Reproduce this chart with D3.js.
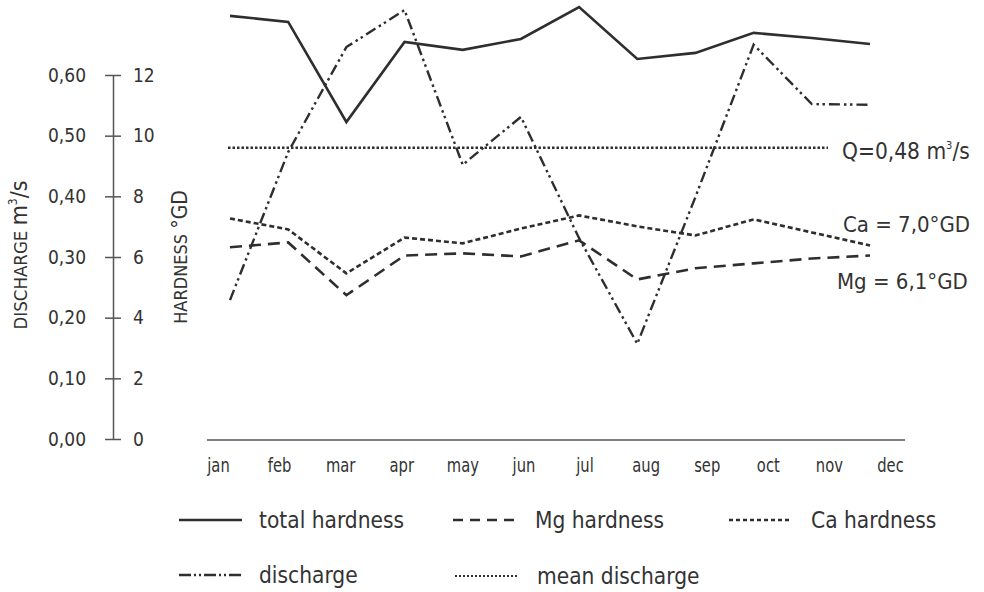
<!DOCTYPE html>
<html>
<head>
<meta charset="utf-8">
<script src="https://cdn.jsdelivr.net/npm/d3@7"></script>
<style>
  html, body { margin: 0; padding: 0; background: #ffffff; }
  svg { display: block; }
  text { font-family: "DejaVu Sans Condensed", "DejaVu Sans", sans-serif; font-stretch: condensed; fill: #333; }
</style>
</head>
<body>
<svg id="chart" width="984" height="592"></svg>
<script>
// Monthly series
const months = ["jan", "feb", "mar", "apr", "may", "jun", "jul", "aug", "sep", "oct", "nov", "dec"];
const totalHardness = [13.95, 13.75, 10.45, 13.09, 12.83, 13.19, 14.24, 12.53, 12.73, 13.39, 13.22, 13.02];
const mgHardness    = [6.32, 6.48, 4.74, 6.05, 6.12, 6.02, 6.55, 5.26, 5.63, 5.79, 5.95, 6.05];
const caHardness    = [7.27, 6.91, 5.46, 6.64, 6.45, 6.94, 7.37, 7.01, 6.71, 7.24, 6.81, 6.38];
const discharge     = [0.229, 0.473, 0.646, 0.707, 0.452, 0.531, 0.331, 0.157, 0.399, 0.650, 0.552, 0.551];
const meanDischarge = 0.48;
const meanCa = 7.0;
const meanMg = 6.1;

// Axis ticks
const hardnessTicks  = [0, 2, 4, 6, 8, 10, 12];
const dischargeTicks = [0, 0.1, 0.2, 0.3, 0.4, 0.5, 0.6];

const svg = d3.select("#chart");
const ink = "#2e2e2e";

const locale = d3.formatLocale({ decimal: ",", thousands: ".", grouping: [3], currency: ["", ""] });
const fmt2 = locale.format(".2f");
const fmt1 = locale.format(".1f");

// Scales
const yH = d3.scaleLinear().domain([0, 12]).range([439, 75]);
const yQ = d3.scaleLinear().domain([0, 0.6]).range([439, 75]);
const xData = d3.scalePoint().domain(months).range([230, 870]);
const xLab  = d3.scalePoint().domain(months).range([218, 890]);

// Left double axis
const axisX = 113;
const gL = svg.append("g").attr("transform", `translate(${axisX},0)`)
  .call(d3.axisLeft(yQ).tickValues(dischargeTicks).tickFormat(fmt2).tickSize(8).tickSizeOuter(0).tickPadding(19));
const gR = svg.append("g").attr("transform", `translate(${axisX},0)`)
  .call(d3.axisRight(yH).tickValues(hardnessTicks).tickSize(8).tickSizeOuter(0).tickPadding(12));
[gL, gR].forEach(g => {
  g.selectAll("path.domain").attr("stroke", "#555").attr("stroke-width", 1.5);
  g.selectAll(".tick line").attr("stroke", "#555").attr("stroke-width", 1.5);
  g.selectAll(".tick text").attr("font-size", 19).attr("fill", "#333")
    .attr("font-family", null);
});
gR.select("path.domain").remove();

// Axis titles
const t1 = svg.append("text").attr("transform", "translate(27,255) rotate(-90)").attr("text-anchor", "middle");
t1.append("tspan").attr("font-size", 18.5).text("DISCHARGE ");
t1.append("tspan").attr("font-size", 23).text("m");
t1.append("tspan").attr("font-size", 12).attr("dy", -10).text("3");
t1.append("tspan").attr("font-size", 23).attr("dy", 10).text("/s");

const t2 = svg.append("text").attr("transform", "translate(187,257) rotate(-90)").attr("text-anchor", "middle");
t2.append("tspan").attr("font-size", 18).text("HARDNESS ");
t2.append("tspan").attr("font-size", 21).text("°GD");

// Bottom axis
const xAxisG = svg.append("g").attr("transform", "translate(0,440)");
xAxisG.append("line")
  .attr("x1", xLab.range()[0] - 11).attr("x2", xLab.range()[1] + 15)
  .attr("stroke", "#555").attr("stroke-width", 1.5);
const xa = svg.append("g").attr("transform", "translate(0,440)")
  .call(d3.axisBottom(xLab).tickSize(0).tickPadding(18));
xa.select("path.domain").remove();
// narrow, tall month labels
xa.selectAll(".tick text")
  .attr("font-size", 20).attr("fill", "#333").attr("font-family", null)
  .attr("transform", "scale(0.82,1)");

// Line styles
const styles = {
  total:  { dash: null,               width: 2.6 },
  mg:     { dash: "12,7",             width: 2.6 },
  ca:     { dash: "5,3",              width: 2.6 },
  q:      { dash: "11,4,2.5,3.5,2.5,4", width: 2.4 },
  qmean:  { dash: "2.5,2",            width: 2.4 }
};

const lineGen = (yScale) => d3.line().x((d, i) => xData(months[i])).y(d => yScale(d));

function drawSeries(values, yScale, st) {
  svg.append("path").datum(values)
    .attr("d", lineGen(yScale))
    .attr("fill", "none").attr("stroke", ink)
    .attr("stroke-width", st.width)
    .attr("stroke-linejoin", "miter")
    .attr("stroke-dasharray", st.dash);
}

drawSeries(totalHardness, yH, styles.total);
drawSeries(mgHardness, yH, styles.mg);
drawSeries(caHardness, yH, styles.ca);
drawSeries(discharge, yQ, styles.q);

// Mean discharge reference line
svg.append("line")
  .attr("x1", xData(months[0]) - 2).attr("x2", 828)
  .attr("y1", yQ(meanDischarge)).attr("y2", yQ(meanDischarge))
  .attr("stroke", ink).attr("stroke-width", styles.qmean.width)
  .attr("stroke-dasharray", styles.qmean.dash);

// Annotations
const qLab = svg.append("text").attr("x", 842).attr("y", yQ(meanDischarge) + 11).attr("font-size", 22.5);
qLab.append("tspan").text("Q=" + fmt2(meanDischarge) + " m");
qLab.append("tspan").attr("font-size", 11).attr("dy", -10).text("3");
qLab.append("tspan").attr("dy", 10).text("/s");

svg.append("text").attr("x", 843).attr("y", 232).attr("font-size", 22).text("Ca = " + fmt1(meanCa) + "°GD");
svg.append("text").attr("x", 837).attr("y", 289).attr("font-size", 22).text("Mg = " + fmt1(meanMg) + "°GD");

// Legend
const legendItems = [
  { label: "total hardness", st: styles.total, x: 179, y: 520 },
  { label: "Mg hardness",    st: styles.mg,    x: 453, y: 520, dash: "10,7" },
  { label: "Ca hardness",    st: styles.ca,    x: 729, y: 520, dash: "4,3" },
  { label: "discharge",      st: styles.q,     x: 179, y: 575, dash: "12,3,2,3,2,3" },
  { label: "mean discharge", st: styles.qmean, x: 455, y: 576, dash: "2,2", width: 1.8 }
];
const lg = svg.append("g").selectAll("g").data(legendItems).join("g")
  .attr("transform", d => `translate(${d.x},${d.y})`);
lg.append("line")
  .attr("x1", 0).attr("x2", 63).attr("y1", 0).attr("y2", 0)
  .attr("stroke", ink)
  .attr("stroke-width", d => d.width || d.st.width)
  .attr("stroke-dasharray", d => d.dash || d.st.dash);
lg.append("text").attr("x", d => (d.x < 300 ? 80 : 82)).attr("y", 8).attr("font-size", 22.5).text(d => d.label);
</script>
</body>
</html>
